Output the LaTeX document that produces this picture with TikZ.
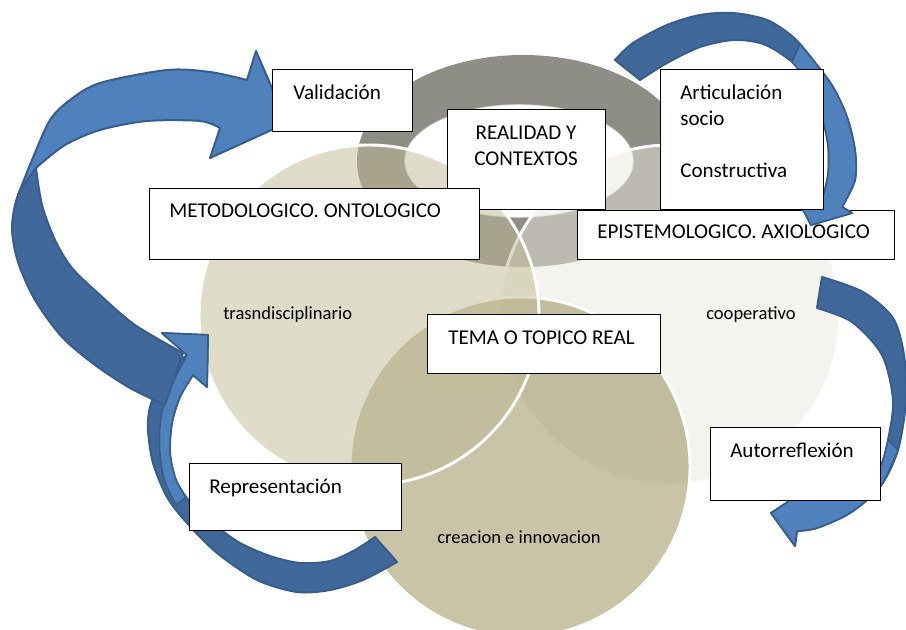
\documentclass[tikz,border=0pt]{standalone}
\usepackage{fontspec}
\setmainfont{Carlito}
\definecolor{ringgray}{HTML}{8F8E86}
\definecolor{lcol}{HTML}{BFB993}
\definecolor{rcol}{HTML}{E9E7DD}
\definecolor{bcol}{HTML}{938751}
\definecolor{blight}{HTML}{4F81BD}
\definecolor{bdark}{HTML}{41689B}
\definecolor{bline}{HTML}{385D8A}
\begin{document}
\begin{tikzpicture}[x=0.75pt,y=-0.75pt,
  venn/.style={fill opacity=0.5, draw=white, line width=2.2pt},
  arrowdark/.style={fill=bdark, draw=bline, line width=1.5pt, line join=round},
  arrowlight/.style={fill=blight, draw=bline, line width=1.5pt, line join=round},
  lightpart/.style={fill=blight, draw=bline, line width=1.2pt, line join=round},
  box/.style={draw=black, line width=0.8pt, fill=white, rectangle, anchor=north west, inner sep=0pt},
  big/.style={font=\fontsize{15.8}{19}\selectfont, anchor=base west, inner sep=0pt},
  small/.style={font=\fontsize{13.9}{17}\selectfont, anchor=base west, inner sep=0pt}]

\useasboundingbox (0,0) rectangle (906,630);

% ---- Venn circles ----
\fill[ringgray, even odd rule] (523,161) ellipse[x radius=166, y radius=106]
                               (519,161) ellipse[x radius=114, y radius=56];
\draw[white, opacity=0.6, line width=1.2pt] (519,161) ellipse[x radius=114, y radius=56];
\path[venn, fill=rcol] (670,315) circle[radius=170];
\path[venn, fill=bcol] (520,467) circle[radius=170];
\path[venn, fill=lcol] (369,315) circle[radius=170];

% ---- Arrow 2 (Representacion) ----
\path[arrowdark] plot[smooth] coordinates {(397,562) (363,580) (330,590) (297,592) (257,580) (217,553) (187,523) (167,497) (153,463) (148,430) (150,407) (160,383) (172,367) (187,355)}
  -- (162,333) -- (208,335) -- (207,387) -- (193,375)
  -- plot[smooth] coordinates {(193,375) (180,397) (172,423) (170,453) (176,480) (190,502) (215,525) (240,543) (270,556) (300,563) (330,561) (355,550) (375,537)}
  -- cycle;
\path[lightpart] (162,333) -- (208,335) -- (207,387) -- (193,375)
  -- plot[smooth] coordinates {(193,375) (180,397) (172,423) (170,453) (176,480) (186,497)}
  -- plot[smooth] coordinates {(176,505) (165,482) (160,455) (160,425) (165,400) (175,378) (187,355)}
  -- cycle;

% ---- Arrow 1 (Validacion) ----
\path[arrowlight] plot[smooth] coordinates {(18,195) (32,160) (50,120) (70,100) (100,83) (167,70) (210,72) (247,80)}
  -- (256,51) -- (287,123) -- (210,158) -- (220,128)
  -- plot[smooth] coordinates {(220,128) (200,121) (147,121) (100,130) (65,145) (37,167)}
  -- cycle;
\path[arrowdark] plot[smooth] coordinates {(36,168) (42,205) (55,240) (72,268) (100,295) (135,325) (183,353)}
  -- (165,405)
  -- plot[smooth] coordinates {(165,405) (130,388) (95,365) (62,337) (35,300) (18,262) (12,228) (18,195) (36,168)}
  -- cycle;

% ---- Arrow 4 (Autorreflexion) ----
\path[arrowdark] plot[smooth] coordinates {(822,277) (863,292) (893,318) (904,355) (906,400) (898,450) (880,487) (850,513) (817,528) (797,531)}
  -- (795,546) -- (771,513) -- (812,486)
  -- plot[smooth] coordinates {(830,496) (860,485) (880,467) (888,440) (893,400) (882,355) (852,322) (817,308)}
  -- cycle;
\path[lightpart] plot[smooth] coordinates {(898,450) (880,487) (850,513) (817,528) (797,531)}
  -- (795,546) -- (771,513) -- (812,486)
  -- plot[smooth] coordinates {(830,496) (860,485) (880,467) (888,440)}
  -- cycle;

% ---- boxes ----
\node[box, minimum width=105pt, minimum height=46.5pt] (bval) at (272,69) {};
\node[big] (tval) at (293,100) {Validación};

\node[box, minimum width=118.5pt, minimum height=75pt] (breal) at (447,109) {};
\node[big, anchor=base] (treala) at (526,140) {REALIDAD Y};
\node[big, anchor=base] (trealb) at (526,166) {CONTEXTOS};

\node[box, minimum width=247.5pt, minimum height=53.25pt] (bmet) at (149,188) {};
\node[big] (tmet) at (169,218) {METODOLOGICO. ONTOLOGICO};

\node[box, minimum width=237.75pt, minimum height=36.75pt] (bepi) at (577,210) {};
\node[big] (tepi) at (597,239) {EPISTEMOLOGICO. AXIOLOGICO};

\node[box, minimum width=174.75pt, minimum height=44.25pt] (btema) at (427,314) {};
\node[big] (ttema) at (448,345) {TEMA O TOPICO REAL};

\node[box, minimum width=159pt, minimum height=50.25pt] (brep) at (189,463) {};
\node[big] (trep) at (209,493) {Representación};

\node[box, minimum width=127.5pt, minimum height=54.75pt] (baut) at (710,427) {};
\node[big] (taut) at (730,457) {Autorreflexión};

% ---- plain labels ----
\node[small] (ltrans) at (223,320) {trasndisciplinario};
\node[small] (lcoop) at (706,320) {cooperativo};
\node[small] (lcrea) at (437,543) {creacion e innovacion};

% ---- Arrow 3 (Articulacion) ----
\path[arrowdark] plot[smooth] coordinates {(615,60) (633,43) (667,25) (700,15) (733,13) (767,20) (793,37) (813,60) (833,87) (847,117) (855,150) (855,180) (842,207)}
  -- (852,213) -- (811,225) -- (798,200) -- (822,200)
  -- plot[smooth] coordinates {(822,200) (828,175) (828,145) (820,110) (803,73) (780,53) (760,43) (733,40) (700,47) (667,63) (640,80)}
  -- cycle;
\path[lightpart] plot[smooth] coordinates {(800,44) (813,60) (833,87) (847,117) (855,150) (855,180) (842,207)}
  -- (852,213) -- (811,225) -- (798,200) -- (822,200)
  -- plot[smooth] coordinates {(822,200) (828,175) (828,145) (820,110) (806,80) (792,62)}
  -- cycle;

\node[box, minimum width=122.25pt, minimum height=105pt] (bart) at (660,69) {};
\node[big] (tarta) at (680,100) {Articulación};
\node[big] (tartb) at (680,126) {socio};
\node[big] (tartc) at (680,178) {Constructiva};

\end{tikzpicture}
\end{document}
